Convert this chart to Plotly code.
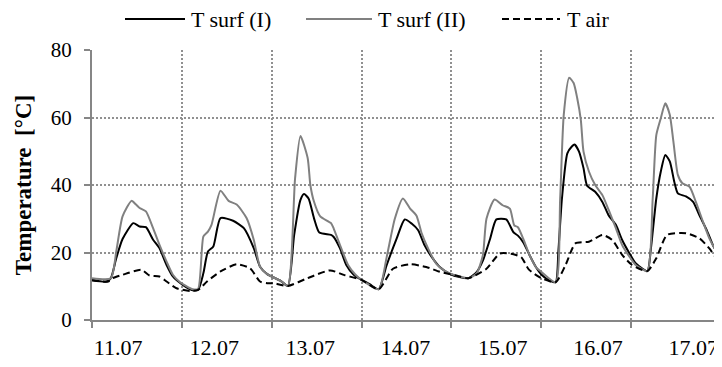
import plotly.graph_objects as go

# ---- data (time in days since 11.07 00:00, temperature in °C) ----
DAY_LABELS = ["11.07", "12.07", "13.07", "14.07", "15.07", "16.07", "17.07"]
DAY_LINES = [0, 1, 2, 3, 4, 5, 6, 7]
LABEL_POS = [0.29, 1.36, 2.43, 3.49, 4.57, 5.63, 6.69]
Y_TICKS = [0, 20, 40, 60, 80]

t1_time = [0.00, 0.16, 0.21, 0.27, 0.34, 0.46, 0.53, 0.60, 0.68, 0.75, 0.83, 0.90, 1.01,
           1.11, 1.18, 1.24, 1.29, 1.35, 1.43, 1.57, 1.69, 1.80, 1.87, 1.95, 2.10, 2.18,
           2.25, 2.32, 2.36, 2.41, 2.47, 2.53, 2.66, 2.69, 2.76, 2.83, 2.91, 3.00, 3.09,
           3.19, 3.28, 3.39, 3.48, 3.56, 3.63, 3.70, 3.78, 3.87, 3.98, 4.09, 4.19, 4.28,
           4.35, 4.43, 4.50, 4.61, 4.69, 4.74, 4.80, 4.87, 4.94, 5.00, 5.08, 5.16, 5.19,
           5.23, 5.29, 5.34, 5.37, 5.42, 5.47, 5.51, 5.60, 5.68, 5.75, 5.83, 5.90, 5.98,
           6.05, 6.18, 6.22, 6.28, 6.33, 6.38, 6.43, 6.48, 6.52, 6.61, 6.69, 6.76, 6.84,
           6.91, 6.99, 7.00]
t_surf_1 = [11.8, 11.4, 12.4, 18.3, 24.0, 28.7, 27.7, 27.5, 23.8, 21.3, 16.3, 12.9, 10.4,
            8.9, 8.9, 13.9, 20.3, 21.8, 30.2, 29.4, 27.2, 21.3, 15.8, 13.6, 11.6, 10.1,
            25.2, 35.6, 37.3, 36.0, 30.2, 25.9, 25.2, 24.6, 21.2, 16.3, 13.5, 11.9, 10.6,
            9.1, 16.3, 24.1, 29.8, 28.5, 26.6, 22.2, 18.7, 15.7, 13.7, 12.7, 12.4, 14.2,
            17.6, 24.0, 29.8, 29.8, 26.0, 25.0, 23.0, 19.2, 15.7, 13.5, 11.9, 11.2, 20.3,
            36.0, 49.4, 51.4, 52.0, 49.9, 45.0, 39.8, 38.0, 35.0, 31.0, 28.2, 23.7, 19.8,
            16.8, 14.5, 21.2, 36.0, 44.0, 48.9, 47.0, 41.0, 37.5, 36.6, 35.0, 31.0, 26.7,
            22.2, 18.3, 17.3]

t2_time = [0.00, 0.21, 0.27, 0.34, 0.44, 0.49, 0.53, 0.60, 0.68, 0.75, 0.83, 0.90, 0.98,
           1.11, 1.18, 1.24, 1.29, 1.33, 1.43, 1.52, 1.61, 1.72, 1.80, 1.87, 1.95, 2.10,
           2.18, 2.26, 2.32, 2.40, 2.43, 2.47, 2.54, 2.66, 2.69, 2.76, 2.85, 2.93, 3.00,
           3.19, 3.28, 3.37, 3.46, 3.54, 3.61, 3.67, 3.74, 3.83, 3.94, 4.06, 4.19, 4.28,
           4.35, 4.39, 4.48, 4.57, 4.65, 4.70, 4.74, 4.80, 4.87, 4.94, 5.00, 5.16, 5.21,
           5.25, 5.31, 5.36, 5.40, 5.44, 5.47, 5.53, 5.60, 5.68, 5.75, 5.83, 5.90, 5.98,
           6.05, 6.18, 6.24, 6.28, 6.33, 6.38, 6.43, 6.47, 6.52, 6.57, 6.65, 6.72, 6.80,
           6.87, 6.95, 7.00]
t_surf_2 = [12.4, 12.4, 20.3, 30.7, 35.3, 34.2, 33.2, 32.2, 27.2, 22.3, 17.3, 13.4, 11.2,
            9.2, 9.2, 24.8, 26.2, 28.2, 38.3, 35.3, 34.2, 30.2, 23.8, 15.8, 13.6, 11.6,
            10.1, 42.0, 54.5, 48.0, 40.0, 35.1, 30.7, 28.7, 27.1, 22.2, 16.3, 13.5, 11.9,
            9.1, 18.7, 30.0, 36.0, 33.0, 31.0, 25.6, 21.2, 16.7, 14.3, 13.1, 12.4, 13.8,
            19.2, 30.0, 35.7, 34.0, 33.0, 28.0, 27.5, 24.0, 19.2, 15.7, 14.3, 11.2, 36.0,
            60.8, 71.8, 70.2, 65.7, 59.3, 49.9, 44.0, 40.0, 37.0, 32.6, 27.2, 22.2, 18.8,
            16.3, 14.5, 36.0, 54.8, 59.8, 64.2, 60.8, 52.9, 43.0, 40.5, 39.5, 35.0, 29.1,
            24.2, 20.3, 18.3]

air_time = [0.00, 0.18, 0.23, 0.34, 0.55, 0.64, 0.75, 0.83, 0.94, 1.09, 1.18, 1.28, 1.43,
            1.61, 1.76, 1.87, 1.95, 2.02, 2.18, 2.40, 2.65, 2.81, 3.00, 3.19, 3.35, 3.54,
            3.72, 3.87, 4.06, 4.19, 4.39, 4.54, 4.69, 4.78, 4.86, 5.00, 5.16, 5.27, 5.38,
            5.53, 5.68, 5.79, 5.90, 6.01, 6.18, 6.28, 6.40, 6.61, 6.76, 6.87, 6.95, 7.00]
t_air = [11.8, 11.4, 12.4, 13.4, 14.9, 13.2, 12.9, 11.4, 9.4, 8.6, 8.9, 11.4, 14.4,
         16.5, 15.3, 11.4, 10.9, 10.9, 10.1, 12.4, 14.7, 13.3, 11.9, 9.1, 15.2, 16.5,
         15.7, 14.3, 13.1, 12.4, 15.2, 19.7, 19.5, 18.5, 15.0, 12.4, 11.2, 16.3, 22.7,
         23.2, 25.2, 23.7, 19.3, 16.3, 14.5, 18.3, 25.2, 25.7, 24.2, 21.2, 18.3, 17.3]

SERIES_NAMES = ["T surf (I)", "T surf (II)", "T air"]

# ---- styling ----
FONT = "Liberation Serif"
GRID = "#909090"
AXIS = "#868686"
OFF = 8  # default page margin of the html body
W, H = 722 - OFF, 367 - OFF
ML, MR, MT, MB = 92 - OFF, 1, 50 - OFF, 47
DASH = "7px,4px"

fig = go.Figure()
fig.add_trace(go.Scatter(x=t1_time, y=t_surf_1, mode="lines", name=SERIES_NAMES[0],
                         line=dict(color="#000000", width=2, shape="spline", smoothing=0.6),
                         showlegend=False))
fig.add_trace(go.Scatter(x=t2_time, y=t_surf_2, mode="lines", name=SERIES_NAMES[1],
                         line=dict(color="#808080", width=2, shape="spline", smoothing=0.6),
                         showlegend=False))
fig.add_trace(go.Scatter(x=air_time, y=t_air, mode="lines", name=SERIES_NAMES[2],
                         line=dict(color="#000000", width=2, dash=DASH, shape="spline",
                                   smoothing=0.6),
                         showlegend=False))
# empty trace to carry the label axis
fig.add_trace(go.Scatter(x=[], y=[], xaxis="x2", showlegend=False, hoverinfo="skip"))

# ---- manual legend (line samples + text), positions in page pixels ----
pw = W - ML - MR
ph = H - MT - MB
def px_x(p):
    return (p - OFF - ML) / pw
def px_y(p):
    return (H - MB - (p - OFF)) / ph

legend_items = [
    (125, 185, 189, "#000000", "solid", SERIES_NAMES[0]),
    (306, 372, 376, "#808080", "solid", SERIES_NAMES[1]),
    (502, 560, 565, "#000000", "dash", SERIES_NAMES[2]),
]
ly = 19
for x0, x1, xt, col, dsh, name in legend_items:
    fig.add_shape(type="line", xref="paper", yref="paper",
                  x0=px_x(x0), x1=px_x(x1), y0=px_y(ly), y1=px_y(ly),
                  line=dict(color=col, width=2, dash=DASH if dsh == "dash" else "solid"))
    fig.add_annotation(xref="paper", yref="paper", x=px_x(xt), y=px_y(ly + 1),
                       text=name, showarrow=False, xanchor="left", yanchor="middle",
                       font=dict(family=FONT, size=22, color="#000000"))

fig.update_layout(
    width=W, height=H,
    margin=dict(l=ML, r=MR, t=MT, b=MB, pad=0),
    paper_bgcolor="white", plot_bgcolor="white",
    font=dict(family=FONT, size=21, color="#000000"),
    showlegend=False,
    xaxis=dict(
        range=[0, 7], tickvals=DAY_LINES, showticklabels=False,
        showgrid=True, gridcolor=GRID, griddash="2px,2px", gridwidth=1.5,
        showline=True, linecolor=AXIS, linewidth=2,
        ticks="outside", ticklen=6, tickcolor=AXIS, tickwidth=2,
        zeroline=False, fixedrange=True,
    ),
    xaxis2=dict(
        range=[0, 7], overlaying="x", side="bottom", anchor="y",
        tickvals=LABEL_POS, ticktext=DAY_LABELS,
        showgrid=False, showline=False, zeroline=False,
        ticks="outside", ticklen=8, tickcolor="rgba(0,0,0,0)",
        tickfont=dict(family=FONT, size=22, color="#000000"),
    ),
    yaxis=dict(
        range=[0, 80], tickvals=Y_TICKS,
        showgrid=True, gridcolor=GRID, griddash="2px,2px", gridwidth=1.5,
        showline=True, linecolor=AXIS, linewidth=2,
        ticks="outside", ticklen=6, tickcolor=AXIS, tickwidth=2,
        ticklabelstandoff=8,
        tickfont=dict(family=FONT, size=21, color="#000000"),
        zeroline=False,
        title=dict(text="<b>Temperature\u00a0\u00a0[°C]</b>", standoff=13,
                   font=dict(family=FONT, size=23, color="#000000")),
    ),
)

fig.write_html("out.html")
